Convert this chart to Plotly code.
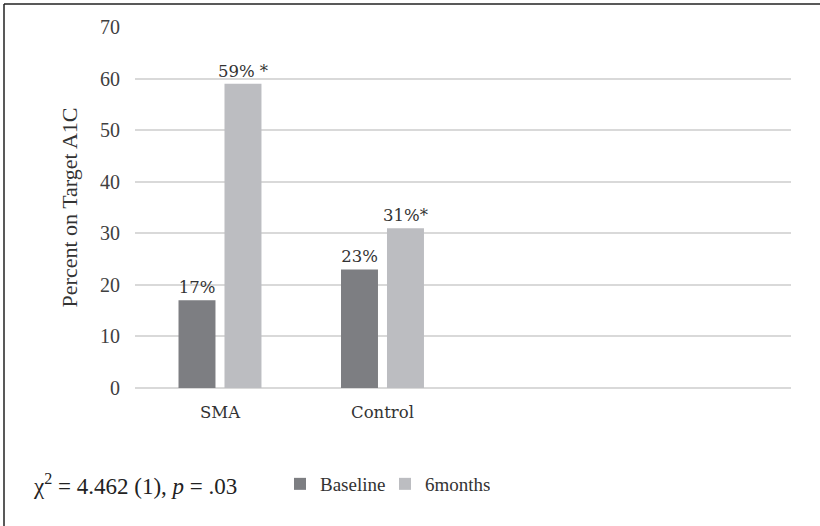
import plotly.graph_objects as go

categories = ["SMA", "Control"]
baseline = [17, 23]
six_months = [59, 31]
baseline_labels = ["17%", "23%"]
six_months_labels = ["59% *", "31%*"]
y_ticks = [0, 10, 20, 30, 40, 50, 60, 70]

W, H = 820, 526
ML, MR, MT, MB = 135, 29, 27, 138
pw, ph = W - ML - MR, H - MT - MB

label_font = dict(family="DejaVu Serif", size=16.5, color="#333333")
fig = go.Figure()
fig.add_trace(go.Bar(
    x=categories, y=baseline, name="Baseline",
    marker=dict(color="#7d7e82", line=dict(width=0)),
    text=baseline_labels, textposition="outside", textfont=label_font,
    constraintext="none", cliponaxis=False,
))
fig.add_trace(go.Bar(
    x=categories, y=six_months, name="6months",
    marker=dict(color="#bcbdc1", line=dict(width=0)),
    text=six_months_labels, textposition="outside", textfont=label_font,
    constraintext="none", cliponaxis=False,
))

def px_x(p):
    return (p - ML) / pw

def px_y(p):
    return (H - MB - p) / ph

fig.update_layout(
    width=W, height=H,
    margin=dict(l=ML, r=MR, t=MT, b=MB),
    paper_bgcolor="white", plot_bgcolor="white",
    barmode="group", bargap=0.434, bargroupgap=0.196,
    showlegend=True,
    legend=dict(
        orientation="h", x=px_x(280), y=px_y(484), yanchor="middle", xanchor="left",
        font=dict(family="Liberation Serif", size=19, color="#333333"),
        itemwidth=30, traceorder="normal", entrywidth=60,
    ),
    xaxis=dict(
        type="category", range=[-0.523, 3.514], showgrid=False, zeroline=False,
        showline=False, ticks="",
        tickfont=dict(family="DejaVu Serif", size=16.5, color="#333333"),
        ticklabelstandoff=12,
    ),
    yaxis=dict(
        range=[0, 70], tickvals=y_ticks, showgrid=True, gridcolor="#d9d9d9", gridwidth=1.5,
        zeroline=True, zerolinecolor="#d9d9d9", zerolinewidth=1.5, showline=False,
        tickfont=dict(family="Liberation Serif", size=20, color="#404040"),
        ticklabelstandoff=14,
        title=dict(text="Percent on Target A1C",
                   font=dict(family="Liberation Serif", size=22, color="#333333"),
                   standoff=16),
    ),
    annotations=[dict(
        text="χ<sup>2</sup> = 4.462 (1), <i>p</i> = .03",
        xref="paper", yref="paper", x=px_x(31), y=px_y(484),
        xanchor="left", yanchor="middle", showarrow=False,
        font=dict(family="Liberation Serif", size=23, color="#222222"),
    )],
    shapes=[
        dict(type="line", xref="paper", yref="paper", x0=px_x(4), x1=px_x(820),
             y0=px_y(4), y1=px_y(4), line=dict(color="#222222", width=1.5)),
        dict(type="line", xref="paper", yref="paper", x0=px_x(4), x1=px_x(4),
             y0=px_y(4), y1=px_y(526), line=dict(color="#222222", width=1.5)),
    ],
)

fig.write_html("out.html", config={"displayModeBar": False},
               post_script="document.body.style.margin='0px';")
